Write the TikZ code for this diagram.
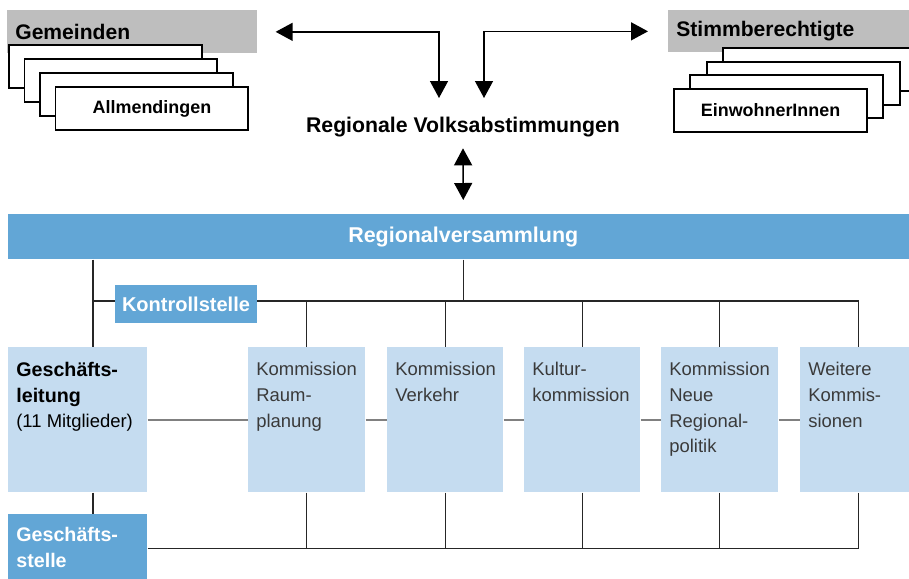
\documentclass[tikz,border=0pt]{standalone}
\usepackage{fontspec}
\setmainfont{Liberation Sans}
\usetikzlibrary{arrows.meta}
\definecolor{midblue}{HTML}{62A6D6}
\definecolor{paleblue}{HTML}{C5DCF0}
\definecolor{headgray}{HTML}{BEBEBE}
\definecolor{darktext}{HTML}{3A3A3A}

\begin{document}
\begin{tikzpicture}[x=0.02cm, y=-0.02cm,
  dbl/.style={line width=0.8pt, {Triangle[length=0.34cm,width=0.36cm]}-{Triangle[length=0.34cm,width=0.36cm]}},
  headbox/.style={fill=headgray, anchor=north west, minimum width=5cm, minimum height=0.86cm,
    text width=4.68cm, inner xsep=0.16cm, inner ysep=0, align=left,
    font=\bfseries\fontsize{12}{14}\selectfont},
  stackbox/.style={draw, line width=1.1pt, fill=white, anchor=north west, minimum width=3.86cm,
    minimum height=0.86cm, inner sep=0, font=\bfseries\fontsize{10.2}{12}\selectfont},
  kbox/.style={fill=paleblue, anchor=north west, minimum width=2.34cm, minimum height=2.9cm, inner sep=0},
  ktext/.style={anchor=north west, align=left, inner sep=0, text=darktext, font=\fontsize{10.5}{14.6}\selectfont},
  bluebox/.style={fill=midblue, text=white, inner sep=0, font=\bfseries\fontsize{11.4}{14.8}\selectfont},
  line/.style={line width=0.6pt, draw=black!85},
  midline/.style={line width=1.3pt, draw=black!50}]
\useasboundingbox (0,0) rectangle (909,578);
\clip (0,0) rectangle (909,578);

% Gemeinden / Stimmberechtigte
\node[headbox] (gem) at (7,10) {Gemeinden};
\node[headbox, minimum height=0.84cm] (stb) at (668,10) {Stimmberechtigte};
\foreach \i in {0,1,2}
  \node[stackbox] (gem\i) at ({8+15.5*\i},{44+14*\i}) {};
\node[stackbox] (gem3) at (54.5,86) {Allmendingen};
\foreach \i in {0,1,2}
  \node[stackbox] (stb\i) at ({722-16.3*\i},{47+13.7*\i}) {};
\node[stackbox] (stb3) at (673.1,88.1) {EinwohnerInnen};

% Volksabstimmungen
\node[font=\bfseries\fontsize{12.1}{14}\selectfont, inner sep=0] (va) at (463,127) {Regionale Volksabstimmungen};
\coordinate (vaL) at (439,98);
\coordinate (vaR) at (484,98);
\draw[dbl] (vaL) |- ([xshift=0.36cm]gem.east);
\draw[dbl] (vaR) |- ([xshift=-0.4cm]stb.west);

% Regionalversammlung
\node[bluebox, anchor=north west, minimum width=18.2cm, minimum height=0.9cm,
  font=\bfseries\fontsize{12.2}{14}\selectfont] (rv) at (8,214) {Regionalversammlung};
\draw[dbl] ([yshift=-0.22cm]va.south) -- ([yshift=0.28cm]rv.north);

% Gremien
\node[kbox, minimum width=2.78cm] (gl) at (8,347) {};
\node[kbox] (k1) at (248,347) {};
\node[kbox, minimum width=2.32cm] (k2) at (387,347) {};
\node[kbox, minimum width=2.32cm] (k3) at (524,347) {};
\node[kbox] (k4) at (661,347) {};
\node[kbox] (k5) at (800,347) {};
\foreach \a/\b in {gl/k1,k1/k2,k2/k3,k3/k4,k4/k5}
  \draw[midline] (\a.east) -- (\b.west);

\node[ktext, text=black] (glt) at ([shift={(0.16cm,-0.30cm)}]gl.north west)
  {{\bfseries\fontsize{11.2}{14.6}\selectfont Geschäfts-}\\{\bfseries\fontsize{11.2}{14.6}\selectfont leitung}\\(11 Mitglieder)};
\node[ktext] (k1t) at ([shift={(0.16cm,-0.30cm)}]k1.north west) {Kommission\\Raum-\\planung};
\node[ktext] (k2t) at ([shift={(0.16cm,-0.30cm)}]k2.north west) {Kommission\\Verkehr};
\node[ktext] (k3t) at ([shift={(0.16cm,-0.30cm)}]k3.north west) {Kultur-\\kommission};
\node[ktext] (k4t) at ([shift={(0.16cm,-0.30cm)}]k4.north west) {Kommission\\Neue\\Regional-\\politik};
\node[ktext] (k5t) at ([shift={(0.16cm,-0.30cm)}]k5.north west) {Weitere\\Kommis-\\sionen};

% Kontrollstelle und Verbindungen oben
\node[bluebox, minimum width=2.84cm, minimum height=0.76cm] (ko) at (186,304) {Kontrollstelle};
\coordinate (busL) at (93,301);
\draw[line] (busL |- rv.south) -- (busL |- gl.north);
\draw[line] (rv.south) -- (rv.south |- busL);
\draw[line] (busL) -- (ko.west |- busL);
\draw[line] (ko.east |- busL) -- (busL -| k5.north);
\foreach \k in {k1,k2,k3,k4,k5}
  \draw[line] (\k.north |- busL) -- (\k.north);

% Geschaeftsstelle und Verbindungen unten
\node[bluebox, anchor=north west, minimum width=2.78cm, minimum height=1.36cm] (gs) at (8,514) {};
\node[ktext, text=white, font=\bfseries\fontsize{11.2}{14.8}\selectfont] (gst)
  at ([shift={(0.16cm,-0.25cm)}]gs.north west) {Geschäfts-\\stelle};
\draw[line] (busL |- gl.south) -- (busL |- gs.north);
\draw[line] (gs.east) -- (gs.east -| k5.south);
\foreach \k in {k1,k2,k3,k4,k5}
  \draw[line] (\k.south) -- (\k.south |- gs.east);
\end{tikzpicture}
\end{document}
